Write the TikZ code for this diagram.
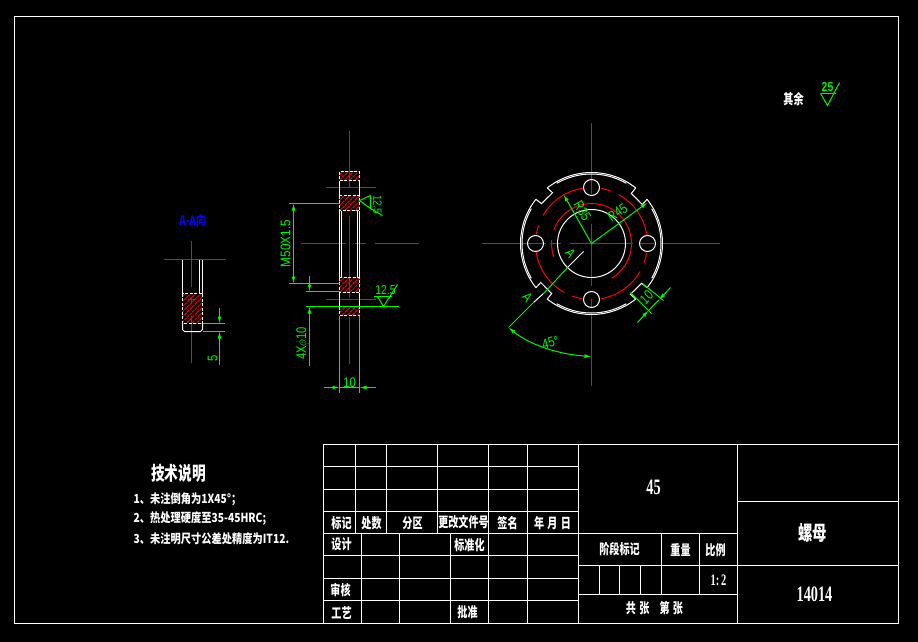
\documentclass[tikz,border=0pt]{standalone}
\usepackage{fontspec}
\usetikzlibrary{arrows.meta, patterns.meta}

\newfontfamily\cjk{Noto Sans CJK SC}
\newfontfamily\latin{Liberation Serif}
\newfontfamily\dimfont{Liberation Sans}

\definecolor{cadgreen}{RGB}{0,245,0}

\tikzset{
	partline/.style = {white, line width = 1pt},
	centerline/.style = {red, line width = 1pt},
	dimline/.style = {cadgreen, line width = 1pt},
	arrowed/.style = {dimline, > = {Latex[length = 7pt, width = 4pt]}},
	hatchbox/.style = {white, line width = 1pt, dash pattern = on 3pt off 1.5pt,
		pattern = {Lines[angle = 45, distance = 3.6pt, line width = 1pt]}, pattern color = red},
	cadtext/.style = {text = white, inner sep = 0pt, xscale = 0.72, transform shape,
		font = \cjk\bfseries\fontsize{14}{14}\selectfont},
	cadnumber/.style = {text = white, inner sep = 0pt, xscale = 0.65, transform shape,
		font = \latin\bfseries\fontsize{22}{22}\selectfont},
	notetext/.style = {text = white, inner sep = 0pt, anchor = west, xscale = 0.82, transform shape,
		font = \cjk\bfseries\fontsize{12.5}{12.5}\selectfont},
	dimtext/.style = {text = cadgreen, inner sep = 0pt, xscale = 0.8, transform shape,
		font = \dimfont\fontsize{14}{14}\selectfont}
}

\begin{document}
\begin{tikzpicture}[x = 1pt, y = -1pt]

	\fill [black] (0, 0) rectangle (918, 642);
	\useasboundingbox (0, 0) rectangle (918, 642);

	\begin{scope}[shift = {(0.5, 0.5)}]

	% Sheet frame and title block

	\begin{scope}[partline]

		\draw (14, 16) rectangle (898, 623);
		\draw (323, 444) rectangle (898, 623);

		\foreach \y in {466, 489, 511, 533, 555, 578, 600}
			\draw (323, \y) -- (578, \y);
		\foreach \x in {355, 386, 437}
			\draw (\x, 444) -- (\x, 533);
		\foreach \x in {361, 399, 450}
			\draw (\x, 533) -- (\x, 623);
		\foreach \x in {488, 527, 578, 737}
			\draw (\x, 444) -- (\x, 623);

		\draw (737, 501) -- (898, 501);
		\draw (578, 533) -- (737, 533);
		\draw (578, 565) -- (898, 565);
		\draw (578, 594) -- (737, 594);
		\foreach \x in {661, 699}
			\draw (\x, 533) -- (\x, 594);
		\foreach \x in {599, 619, 640}
			\draw (\x, 565) -- (\x, 594);

	\end{scope}

	% Title block texts

	\node [cadtext] (mark) at (341, 523) {标记};
	\node [cadtext] (count) at (371, 523) {处数};
	\node [cadtext] (zone) at (412, 523) {分区};
	\node [cadtext] (docno) at (463, 522) {更改文件号};
	\node [cadtext] (sign) at (507, 523) {签名};
	\node [cadtext] (date) at (552, 523) {年\,\,月\,\,日};
	\node [cadtext] (design) at (341, 544) {设计};
	\node [cadtext] (standard) at (469, 545) {标准化};
	\node [cadtext] (check) at (340, 590) {审核};
	\node [cadtext] (process) at (341, 612) {工艺};
	\node [cadtext] (approve) at (467, 612) {批准};
	\node [cadtext] (stage) at (619, 549) {阶段标记};
	\node [cadtext] (weight) at (680, 549) {重量};
	\node [cadtext] (ratio) at (715, 550) {比例};
	\node [cadtext] (sheets) at (654, 608) {共\,\,张\quad 第\,\,张};
	\node [cadtext, font = \cjk\bfseries\fontsize{20}{20}\selectfont] (part) at (812, 532) {螺母};
	\node [cadnumber] (steel) at (653, 487) {45};
	\node [cadnumber] (drawing) at (814, 594) {14014};
	\node [cadnumber, font = \latin\bfseries\fontsize{16}{16}\selectfont] (scale) at (718, 580) {1:\,2};

	% Technical notes

	\node [cadtext, font = \cjk\bfseries\fontsize{19}{19}\selectfont] (notes) at (178, 473) {技术说明};
	\node [notetext] (note1) at (133, 499) {1、未注倒角为1X45°；};
	\node [notetext] (note2) at (133, 518) {2、热处理硬度至35-45HRC;};
	\node [notetext] (note3) at (133, 538) {3、未注明尺寸公差处精度为IT12.};

	% General roughness

	\node [cadtext] (rest) at (793, 99) {其余};
	\draw [dimline] (820, 93) -- (835, 93);
	\draw [dimline] (820, 93) -- (827, 105) -- (839, 82);
	\node [dimtext, font = \dimfont\bfseries\fontsize{13}{13}\selectfont] (rough) at (827, 87) {25};

	% Section A-A

	\node [text = blue, inner sep = 0pt, xscale = 0.75, transform shape,
		font = \cjk\bfseries\fontsize{13}{13}\selectfont] (section) at (192, 220) {A-A向};

	\begin{scope}[centerline]

		\draw (163, 259) -- (225, 259);
		\draw (191, 240) -- (191, 286);
		\draw (191, 296) -- (191, 302);
		\draw (187, 299) -- (195, 299);
		\draw (191, 315) -- (191, 362);

	\end{scope}

	\begin{scope}[partline]

		\draw [line width = 1.6pt] (182, 259) -- (182, 293);
		\draw (199, 259) -- (199, 293);
		\draw (202, 259) -- (202, 293);
		\draw (182, 323) -- (182, 329) -- (184, 331) -- (200, 331) -- (202, 329) -- (202, 323);

	\end{scope}

	\draw [hatchbox] (182, 293) rectangle (202, 323);

	\draw [dimline] (202, 323) -- (224, 323);
	\draw [dimline] (202, 331) -- (224, 331);
	\draw [arrowed, ->] (219, 307) -- (219, 323);
	\draw [arrowed, ->] (219, 364) -- (219, 331);
	\node [rotate = 90, dimtext] (five) at (212, 358) {5};

	% Side view

	\begin{scope}[centerline]

		\draw (349, 130) -- (349, 186);
		\draw (349, 215) -- (349, 297);
		\draw (349, 316) -- (349, 363);
		\draw (325, 187) -- (375, 187);
		\draw (325, 299) -- (375, 299);
		\draw (300, 243) -- (345, 243);
		\draw (354, 243) -- (365, 243);
		\draw (374, 243) -- (418, 243);

	\end{scope}

	\begin{scope}[partline]

		\foreach \x in {339, 359} {
			\draw (\x, 180) -- (\x, 195);
			\draw (\x, 210) -- (\x, 277);
			\draw (\x, 292) -- (\x, 306);
		}
		\draw (341, 210) -- (341, 277);
		\draw (357, 210) -- (357, 277);

	\end{scope}

	\draw [hatchbox] (339, 171) rectangle (359, 180);
	\draw [hatchbox] (339, 195) rectangle (359, 210);
	\draw [hatchbox] (339, 277) rectangle (359, 292);
	\draw [hatchbox] (339, 306) rectangle (359, 315);

	% Side view dimensions

	\begin{scope}[dimline]

		\draw (288, 203) -- (339, 203);
		\draw (288, 283) -- (339, 283);
		\draw (305, 291) -- (339, 291);
		\draw (305, 306) -- (398, 306);
		\draw (339, 315) -- (339, 392);
		\draw (359, 315) -- (359, 392);
		\draw (339, 387) -- (359, 387);

		% Roughness marks
		\draw (359, 200) -- (370, 195) -- (370, 208) -- cycle;
		\draw (370, 208) -- (382, 215);
		\draw (373, 296) -- (391, 296);
		\draw (377, 296) -- (383, 306) -- (397, 284);

	\end{scope}

	\draw [arrowed, <->] (293, 203) -- (293, 283);
	\draw [arrowed, ->] (309, 275) -- (309, 291);
	\draw [arrowed, ->] (309, 365) -- (309, 306);
	\draw [arrowed, ->] (323, 387) -- (339, 387);
	\draw [arrowed, ->] (375, 387) -- (359, 387);

	\node [rotate = 90, dimtext, xscale = 1.05] (thread) at (285, 243) {M50X1.5};
	\node [rotate = 90, dimtext] (holes) at (302, 343) {4X$\phi$10};
	\node [dimtext] (width) at (349, 382) {10};
	\node [rotate = -90, dimtext, font = \dimfont\fontsize{12}{12}\selectfont] (roughside) at (377, 204) {12.5};
	\node [dimtext, font = \dimfont\fontsize{13}{13}\selectfont] (roughbot) at (385, 290) {12.5};

	% Front view, angles measured around the bore centre

	\begin{scope}[shift = {(591, 243)}, y = 1pt]

		\begin{scope}[centerline]

			\draw (-110, 0) -- (-46, 0);
			\draw (-42, 0) -- (-31, 0);
			\draw (-22, 0) -- (41, 0);
			\draw (48, 0) -- (62, 0);
			\draw (69, 0) -- (128, 0);
			\draw (0, 121) -- (0, 50);
			\draw (0, 20) -- (0, -42);
			\draw (0, -55) -- (0, -64);
			\draw (0, -70) -- (0, -142);

			% Broken pitch circle
			\foreach \a / \b in {150 / 98, 80 / 70, 61 / 9, -10 / -20, -30 / -80, 260 / 250, 241 / 187, 170 / 161}
				\draw (\a : 56) arc [start angle = \a, end angle = \b, radius = 56];

			% Thread circle
			\draw (160 : 40) arc [start angle = 160, end angle = -60, radius = 40];
			\draw (175 : 40) arc [start angle = 175, end angle = 200, radius = 40];

		\end{scope}

		\begin{scope}[partline]

			\draw (0, 0) circle (34);

			\foreach \a in {0, 90, 180, 270} {
				\draw (\a : 56) circle (8);
				\draw (\a - 38.5 : 71) arc [start angle = \a - 38.5, end angle = \a + 38.5, radius = 71];
				\draw (\a - 30 : 69.5) arc [start angle = \a - 30, end angle = \a + 30, radius = 69.5];
			}

			\foreach \a in {45, 135, 225, 315}
				\draw (\a + 6.5 : 71) -- (\a + 6.5 : 64) -- (\a - 7.5 : 64) -- (\a - 6.5 : 71);

			% Cut line, white where it runs over the part
			\draw (-8, -8) -- (-24, -24);
			\draw (-48, -50) -- (-58, -59);

		\end{scope}

		\begin{scope}[dimline]

			\draw (-24, -24) -- (-48, -50);
			\draw (-58, -59) -- (-83, -84);
			\draw (51, -40) -- (72, -57);
			\draw (39, -49) -- (60, -70);
			\draw (57, -67) -- (67.4, -56.4);

		\end{scope}

		\draw [arrowed, ->] (0, 0) -- (-28, 49);
		\draw [arrowed, ->] (0, 0) -- (56, 41);
		\draw [arrowed, <->] (-83, -84) .. controls (-61, -102) and (-31, -111) .. (0, -113);
		\draw [arrowed, ->] (79, -44) -- (67.4, -56.4);
		\draw [arrowed, ->] (46, -79) -- (57, -67);

		\node [rotate = -60, dimtext] (rsmall) at (-9, 33) {R35};
		\node [rotate = 35, dimtext] (rlarge) at (26, 31) {R45};
		\node [rotate = -50, dimtext] (cutA) at (-21, -10) {A};
		\node [rotate = -50, dimtext] (cutB) at (-64, -54) {A};
		\node [rotate = 15, dimtext] (angle) at (-41, -99) {45°};
		\node [rotate = 45, dimtext] (notch) at (55, -54) {10};

	\end{scope}

	\end{scope}

\end{tikzpicture}
\end{document}
